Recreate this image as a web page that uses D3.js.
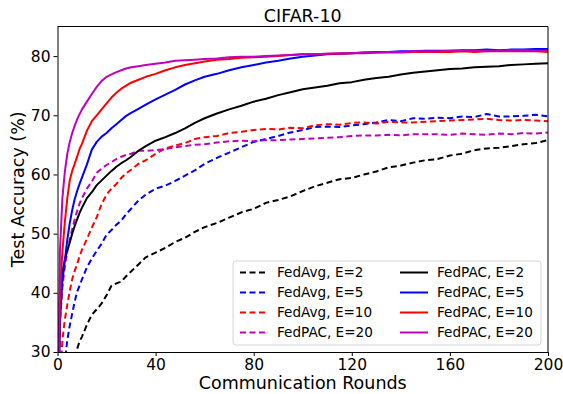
<!DOCTYPE html>
<meta charset="utf-8">
<script src="https://cdn.jsdelivr.net/npm/d3@7"></script>
<style>
body {
  margin: 0;
  background-color: #fff;
  font-family: "DejaVu Sans", sans-serif;
}
.axis path,
.axis line {
  stroke: #000;
  stroke-width: 1px;
}
.axis text {
  font-size: 15.5px;
  fill: #000;
  font-family: "DejaVu Sans", sans-serif;
}
.line {
  fill: none;
  stroke-width: 2px;
  stroke-linejoin: round;
}
</style>
<body>
  <div id="chart"></div>
</body>
<script>
var rounds = [0,1,2,3,4,5,6,7,8,9,10,12,14,16,18,20,22,24,26,28,30,33,36,40,44,48,52,56,60,65,70,75,80,85,90,95,100,
              105,110,115,120,125,130,135,140,145,150,155,160,165,170,175,180,185,190,195,200];

var fedavgE2 = [10,14,17,20,22.5,25,27,29,30.5,31.8,32.6,34.6,36.3,37.2,38.2,39.6,41.2,41.6,41.9,42.8,43.6,44.8,46.0,46.8,47.6,48.6,49.3,50.3,51.1,51.8,52.7,53.6,54.2,55.2,55.7,56.3,57.2,
                58.0,58.6,59.2,59.4,60.0,60.5,61.2,61.5,62.0,62.4,62.6,63.2,63.5,64.1,64.4,64.5,64.8,65.1,65.3,65.8];
var fedavgE5 = [10,18,24,28.5,32,34.5,36.5,38.5,40.2,41.2,42.3,44.3,45.8,47.1,48.3,49.8,50.6,51.5,52.2,53.3,54.2,55.6,56.6,57.6,58.1,58.9,59.8,60.7,61.8,62.8,63.7,64.6,65.5,66.0,66.5,67.1,67.5,
                68.0,68.1,68.0,68.3,68.5,68.8,69.2,69.0,69.5,69.4,69.6,69.5,69.8,69.7,70.2,69.8,69.8,69.9,70.1,69.8];
var fedavgE10 = [10,25,32,35.5,38,40.3,42.3,43.7,44.8,46.2,47.3,49.1,51.0,52.8,55.0,56.6,57.6,58.4,59.4,60.2,60.8,61.8,62.4,63.5,64.4,64.9,65.3,66.0,66.3,66.5,67.0,67.2,67.5,67.7,67.6,67.9,67.8,
                 68.3,68.5,68.4,68.7,68.8,68.6,68.9,68.8,68.8,68.9,69.0,69.1,69.2,69.3,69.4,69.2,69.1,69.2,69.1,69.0];
var fedpacE20d = [10,35,41,44.5,47,49,50.8,52.4,53.8,55.1,56.0,57.6,58.8,60.3,61.0,61.6,62.1,62.6,63.0,63.3,63.5,64.0,64.0,64.1,64.3,64.6,64.8,65.0,65.1,65.4,65.6,65.7,65.6,65.8,65.8,65.9,66.0,
                  66.1,66.2,66.3,66.5,66.6,66.6,66.7,66.6,66.8,66.8,66.8,66.7,66.9,66.8,66.7,66.9,66.8,67.0,66.9,67.1];
var fedpacE2 = [10,40,43.5,45.6,47.2,48.5,50.0,51.3,52.4,53.5,54.4,56.0,57.0,58.2,59.0,59.8,60.6,61.3,61.9,62.4,63.0,64.0,64.8,65.7,66.3,67.0,67.8,68.7,69.5,70.3,71.0,71.6,72.3,72.8,73.4,73.9,74.4,
                74.7,75.0,75.4,75.6,76.0,76.3,76.5,76.9,77.2,77.4,77.6,77.8,77.9,78.1,78.2,78.3,78.5,78.6,78.7,78.8];
var fedpacE5 = [10,35,42,45.5,49,51.8,54,55.8,57.2,58.4,59.5,61.7,64.2,65.5,66.4,67.0,67.8,68.5,69.2,69.9,70.4,71.1,71.8,72.7,73.5,74.3,75.2,75.9,76.5,77.0,77.6,78.1,78.5,78.9,79.2,79.6,79.9,
                80.1,80.3,80.4,80.5,80.6,80.7,80.7,80.8,80.8,80.9,80.9,80.9,81.0,81.0,81.1,81.0,81.1,81.1,81.2,81.2];
var fedpacE10 = [10,40,47,52,56,59,60.6,61.8,63.0,64.3,65.2,67.4,69.0,70.0,71.0,72.0,73.0,73.8,74.5,75.0,75.5,76.0,76.5,77.0,77.6,78.1,78.5,78.8,79.1,79.4,79.5,79.7,79.8,79.9,80.0,80.2,80.3,
                 80.3,80.4,80.4,80.5,80.5,80.6,80.6,80.6,80.7,80.7,80.7,80.7,80.8,80.7,80.8,80.8,80.8,80.8,80.8,80.7];
var fedpacE20 = [10,47,56,60.5,63.5,65.5,67,68.2,69.3,70.2,71.0,72.3,73.6,74.8,75.8,76.5,76.9,77.3,77.6,77.9,78.1,78.3,78.5,78.7,78.9,79.2,79.3,79.4,79.5,79.6,79.8,79.9,79.9,80.0,80.1,80.2,80.3,
                 80.3,80.4,80.5,80.5,80.6,80.6,80.7,80.7,80.8,80.8,80.8,80.9,80.9,80.9,80.9,80.9,81.0,81.0,80.9,80.9];

var names = ["FedAvg, E=2", "FedAvg, E=5", "FedAvg, E=10", "FedPAC, E=20",
             "FedPAC, E=2", "FedPAC, E=5", "FedPAC, E=10", "FedPAC, E=20"];
var colors = ["#000000", "#0000ff", "#ff0000", "#bf00bf", "#000000", "#0000ff", "#ff0000", "#bf00bf"];
var dashed = [true, true, true, true, false, false, false, false];
var seriesValues = [fedavgE2, fedavgE5, fedavgE10, fedpacE20d, fedpacE2, fedpacE5, fedpacE10, fedpacE20];

var xTicks = [0, 40, 80, 120, 160, 200];
var yTicks = [30, 40, 50, 60, 70, 80];

var margin = {top: 26.5, right: 15, bottom: 42, left: 57.5},
    width = 563,
    height = 394,
    iw = width - margin.left - margin.right,
    ih = height - margin.top - margin.bottom;

var svg = d3.select("#chart").append("svg")
    .attr("width", width)
    .attr("height", height);

var x = d3.scaleLinear().domain([0, 200]).range([0, iw]);
var y = d3.scaleLinear().domain([30, 85]).range([ih, 0]);

var g = svg.append("g")
    .attr("transform", "translate(" + margin.left + "," + margin.top + ")");

g.append("clipPath").attr("id", "clip")
  .append("rect").attr("width", iw).attr("height", ih);

var line = d3.line()
    .x(function(d) { return x(d[0]); })
    .y(function(d) { return y(d[1]); });

var series = seriesValues.map(function(vals, i) {
  return {name: names[i], color: colors[i], dashed: dashed[i],
          points: rounds.map(function(r, j) { return [r, vals[j]]; })};
});

// dashed first, solid on top
g.append("g").attr("clip-path", "url(#clip)")
  .selectAll(".line")
  .data(series)
  .enter().append("path")
  .attr("class", "line")
  .attr("d", function(d) { return line(d.points); })
  .style("stroke", function(d) { return d.color; })
  .style("stroke-dasharray", function(d) { return d.dashed ? "6,3.5" : null; });

g.append("g")
    .attr("class", "x axis")
    .attr("transform", "translate(0," + ih + ")")
    .call(d3.axisBottom(x).tickValues(xTicks).tickSizeInner(4).tickSizeOuter(0).tickPadding(3));

g.append("g")
    .attr("class", "y axis")
    .call(d3.axisLeft(y).tickValues(yTicks).tickSizeInner(4).tickSizeOuter(0).tickPadding(3));

// top and right spines
g.append("line").attr("x1", 0).attr("x2", iw).attr("y1", 0).attr("y2", 0).style("stroke", "#000");
g.append("line").attr("x1", iw).attr("x2", iw).attr("y1", 0).attr("y2", ih).style("stroke", "#000");

svg.append("text")
    .attr("x", margin.left + iw / 2)
    .attr("y", 21.5)
    .attr("text-anchor", "middle")
    .style("font-size", "17.5px")
    .text("CIFAR-10");

svg.append("text")
    .attr("x", margin.left + iw / 2)
    .attr("y", 389)
    .attr("text-anchor", "middle")
    .style("font-size", "17.5px")
    .text("Communication Rounds");

svg.append("text")
    .attr("transform", "translate(24," + (margin.top + ih / 2) + ") rotate(-90)")
    .attr("text-anchor", "middle")
    .style("font-size", "17.5px")
    .text("Test Accuracy (%)");

// legend
var legend = svg.append("g").attr("transform", "translate(233,261)");
legend.append("rect")
    .attr("width", 308)
    .attr("height", 84)
    .attr("rx", 3)
    .style("fill", "rgba(255,255,255,0.8)")
    .style("stroke", "#d6d6d6");

var items = legend.selectAll(".item")
    .data(series)
    .enter().append("g")
    .attr("transform", function(d, i) {
      return "translate(" + (i < 4 ? 7 : 167) + "," + (11.5 + (i % 4) * 20) + ")";
    });
items.append("line")
    .attr("x1", 0).attr("x2", 28)
    .style("stroke", function(d) { return d.color; })
    .style("stroke-width", 2)
    .style("stroke-dasharray", function(d) { return d.dashed ? "6,3.5" : null; });
items.append("text")
    .attr("x", 37)
    .attr("dy", "0.35em")
    .style("font-size", "13.6px")
    .text(function(d) { return d.name; });
</script>
